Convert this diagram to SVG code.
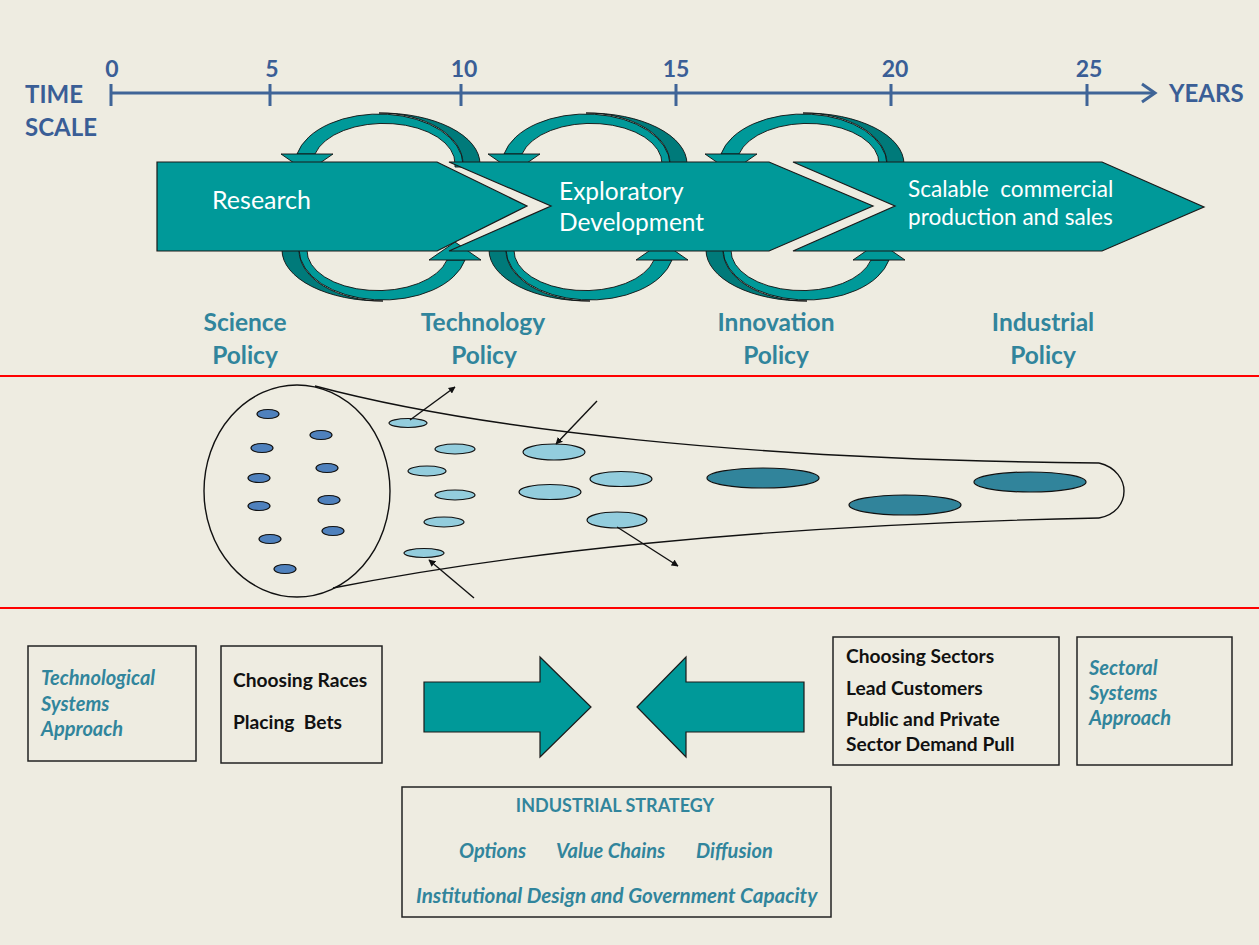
<svg xmlns="http://www.w3.org/2000/svg" width="1259" height="945" viewBox="0 0 1259 945">
<style>
  .bg{fill:#EEECE1}
  .tl{fill:#3A5E96;font-family:Lato,"Liberation Sans",sans-serif;font-weight:bold}
  .axis{stroke:#3F6497;stroke-width:3;fill:none}
  .band{fill:#009999;stroke:#1a1a1a;stroke-width:1.2}
  .bandtxt{fill:#FFFFFF;font-family:Lato,"Liberation Sans",sans-serif}
  .pol{fill:#31859C;font-family:Lato,"Liberation Sans",sans-serif;font-weight:bold;font-size:24.5px;text-anchor:middle}
  .red{stroke:#FF0000;stroke-width:2}
  .fun{fill:none;stroke:#111;stroke-width:1.4}
  .e1{fill:#4F81BD;stroke:#111;stroke-width:1.2}
  .e2{fill:#93CDDD;stroke:#111;stroke-width:1.2}
  .e3{fill:#31849B;stroke:#111;stroke-width:1.2}
  .conn{stroke:#111;stroke-width:1.4;fill:none;marker-end:url(#ah)}
  .box{fill:none;stroke:#222;stroke-width:1.5}
  .bt{fill:#111;font-family:Lato,"Liberation Sans",sans-serif;font-weight:bold;font-size:19.2px}
  .it{fill:#31859C;font-family:Lato,"Liberation Sans",sans-serif;font-weight:bold;font-style:italic;font-size:20px}
  .it.wide{font-size:20.6px}
  .blk{fill:#009999;stroke:#1a1a1a;stroke-width:1.2}
  .ldark{fill:#007A7A;stroke:#111;stroke-width:0.9}
  .llight{fill:#009999;stroke:#111;stroke-width:0.9}
</style>
<defs>
  <marker id="ah" viewBox="0 0 10 10" refX="9" refY="5" markerWidth="7" markerHeight="7" orient="auto" markerUnits="userSpaceOnUse">
    <path d="M0,0 L10,5 L0,10 Z" fill="#111"/>
  </marker>
  <g id="loopTop">
    <path class="ldark" d="M99,-40 L99,-43 A99 51 0 0 0 -2,-94 A84 51 0 0 1 82,-43 L82,-40 Z"/>
    <path class="llight" d="M-84,-53 A84 51 0 0 1 82,-43 L82,-40 L74,-40 L74,-43 A71 40 0 0 0 -66,-53 Z"/>
    <path class="llight" d="M-100,-53 L-48,-53 L-74,-35 Z"/>
  </g>
</defs>
<rect class="bg" x="0" y="0" width="1259" height="945"/>

<g id="timeline">
  <line class="axis" x1="111" y1="93" x2="1154" y2="93"/>
  <polyline class="axis" points="1142,84 1155,93 1142,102"/>
  <g stroke="#3F6497" stroke-width="3">
    <line x1="111" y1="84" x2="111" y2="106"/>
    <line x1="270" y1="84" x2="270" y2="106"/>
    <line x1="461" y1="84" x2="461" y2="106"/>
    <line x1="676" y1="84" x2="676" y2="106"/>
    <line x1="891" y1="84" x2="891" y2="106"/>
    <line x1="1087" y1="84" x2="1087" y2="106"/>
  </g>
  <g class="tl" font-size="23" text-anchor="middle">
    <text x="112" y="77">0</text>
    <text x="272" y="77">5</text>
    <text x="464" y="77">10</text>
    <text x="676" y="77">15</text>
    <text x="895" y="77">20</text>
    <text x="1089" y="77">25</text>
  </g>
  <text class="tl" x="25" y="103" font-size="24">TIME</text>
  <text class="tl" x="25" y="136" font-size="24">SCALE</text>
  <text class="tl" x="1169" y="102" font-size="24">YEARS</text>
</g>

<g id="feedback-loops">
  <use href="#loopTop" transform="translate(381,207)"/>
  <use href="#loopTop" transform="translate(381,207) rotate(180)"/>
  <use href="#loopTop" transform="translate(588,207)"/>
  <use href="#loopTop" transform="translate(588,207) rotate(180)"/>
  <use href="#loopTop" transform="translate(805,207)"/>
  <use href="#loopTop" transform="translate(805,207) rotate(180)"/>
</g>

<g id="stage-research">
  <path class="band" d="M157,162 L437,162 L527,206 L437,251 L157,251 Z"/>
  <text class="bandtxt" x="212" y="209" font-size="25">Research</text>
</g>
<g id="stage-exploratory">
  <path class="band" d="M449,162 L769,162 L873,206 L769,251 L449,251 L551,206 Z"/>
  <text class="bandtxt" x="559" y="200" font-size="24.5">Exploratory</text>
  <text class="bandtxt" x="559" y="231" font-size="24.5">Development</text>
</g>
<g id="stage-scalable">
  <path class="band" d="M793,162 L1102,162 L1204,207 L1102,251 L793,251 L895,206 Z"/>
  <text class="bandtxt" x="908" y="197" font-size="22.6" xml:space="preserve">Scalable  commercial</text>
  <text class="bandtxt" x="908" y="225" font-size="22.6">production and sales</text>
</g>

<g id="policy-labels">
  <text class="pol" x="245" y="331">Science</text>
  <text class="pol" x="245" y="364">Policy</text>
  <text class="pol" x="483" y="331">Technology</text>
  <text class="pol" x="484" y="364">Policy</text>
  <text class="pol" x="776" y="331">Innovation</text>
  <text class="pol" x="776" y="364">Policy</text>
  <text class="pol" x="1043" y="331">Industrial</text>
  <text class="pol" x="1043" y="364">Policy</text>
</g>

<g id="dividers">
  <line class="red" x1="0" y1="376" x2="1259" y2="376"/>
  <line class="red" x1="0" y1="608" x2="1259" y2="608"/>
</g>

<g id="funnel">
  <ellipse class="fun" cx="297" cy="491" rx="93" ry="106"/>
  <path class="fun" d="M315,386 C480,430 750,460 1099,463"/>
  <path class="fun" d="M333,588 C500,555 750,525 1099,518"/>
  <path class="fun" d="M1099,463 C1116,467 1124,480 1124,491 C1124,503 1116,515 1099,518"/>
  <g>
    <ellipse class="e1" cx="268" cy="414" rx="11" ry="4.5"/>
    <ellipse class="e1" cx="321" cy="435" rx="11" ry="4.5"/>
    <ellipse class="e1" cx="262" cy="448" rx="11" ry="4.5"/>
    <ellipse class="e1" cx="327" cy="468" rx="11" ry="4.5"/>
    <ellipse class="e1" cx="259" cy="478" rx="11" ry="4.5"/>
    <ellipse class="e1" cx="329" cy="500" rx="11" ry="4.5"/>
    <ellipse class="e1" cx="259" cy="506" rx="11" ry="4.5"/>
    <ellipse class="e1" cx="333" cy="531" rx="11" ry="4.5"/>
    <ellipse class="e1" cx="270" cy="539" rx="11" ry="4.5"/>
    <ellipse class="e1" cx="285" cy="569" rx="11" ry="4.5"/>
  </g>
  <g>
    <ellipse class="e2" cx="408" cy="423" rx="19" ry="4.5"/>
    <ellipse class="e2" cx="455" cy="449" rx="20" ry="5"/>
    <ellipse class="e2" cx="427" cy="471" rx="19" ry="5"/>
    <ellipse class="e2" cx="455" cy="495" rx="20" ry="5"/>
    <ellipse class="e2" cx="444" cy="522" rx="20" ry="5"/>
    <ellipse class="e2" cx="424" cy="553" rx="20" ry="4.5"/>
    <ellipse class="e2" cx="554" cy="452" rx="31" ry="8"/>
    <ellipse class="e2" cx="550" cy="492" rx="31" ry="7.5"/>
    <ellipse class="e2" cx="621" cy="479" rx="31" ry="7.5"/>
    <ellipse class="e2" cx="617" cy="520" rx="30" ry="8"/>
  </g>
  <g>
    <ellipse class="e3" cx="763" cy="478" rx="56" ry="10"/>
    <ellipse class="e3" cx="905" cy="505" rx="56" ry="10"/>
    <ellipse class="e3" cx="1030" cy="482" rx="56" ry="10"/>
  </g>
</g>

<g id="connectors">
  <line class="conn" x1="410" y1="420" x2="455" y2="387"/>
  <line class="conn" x1="597" y1="401" x2="556" y2="444"/>
  <line class="conn" x1="617" y1="527" x2="678" y2="566"/>
  <line class="conn" x1="474" y1="598" x2="429" y2="560"/>
</g>

<g id="box-technological">
  <rect class="box" x="28" y="646" width="168" height="115"/>
  <text class="it" x="41" y="685">Technological</text>
  <text class="it" x="41" y="711">Systems</text>
  <text class="it" x="41" y="736">Approach</text>
</g>
<g id="box-races">
  <rect class="box" x="221" y="646" width="161" height="117"/>
  <text class="bt" x="233" y="687">Choosing Races</text>
  <text class="bt" x="233" y="729" xml:space="preserve">Placing  Bets</text>
</g>
<g id="arrow-right">
  <path class="blk" d="M424,682 L540,682 L540,657 L591,707 L540,757 L540,732 L424,732 Z"/>
</g>
<g id="arrow-left">
  <path class="blk" d="M637,707 L686,657 L686,682 L804,682 L804,732 L686,732 L686,757 Z"/>
</g>
<g id="box-sectors">
  <rect class="box" x="833" y="637" width="226" height="128"/>
  <text class="bt" x="846" y="663">Choosing Sectors</text>
  <text class="bt" x="846" y="695">Lead Customers</text>
  <text class="bt" x="846" y="726">Public and Private</text>
  <text class="bt" x="846" y="751">Sector Demand Pull</text>
</g>
<g id="box-sectoral">
  <rect class="box" x="1077" y="637" width="155" height="128"/>
  <text class="it" x="1089" y="675">Sectoral</text>
  <text class="it" x="1089" y="700">Systems</text>
  <text class="it" x="1089" y="725">Approach</text>
</g>
<g id="box-industrial-strategy">
  <rect class="box" x="402" y="787" width="429" height="130"/>
  <text x="615" y="812" fill="#31859C" font-family="Lato, 'Liberation Sans', sans-serif" font-weight="bold" font-size="18" text-anchor="middle">INDUSTRIAL STRATEGY</text>
  <text class="it" x="459" y="858">Options</text>
  <text class="it" x="556" y="858">Value Chains</text>
  <text class="it" x="696" y="858">Diffusion</text>
  <text class="it wide" x="416" y="903">Institutional Design and Government Capacity</text>
</g>
</svg>
